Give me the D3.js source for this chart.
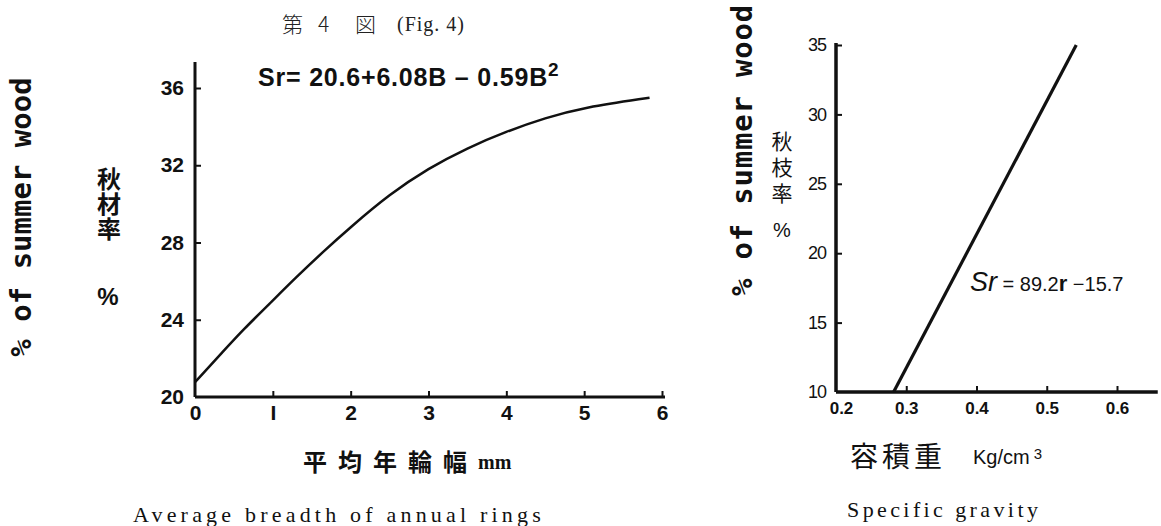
<!DOCTYPE html>
<html>
<head>
<meta charset="utf-8">
<script src="https://cdn.jsdelivr.net/npm/d3@7"></script>
<style>
  body { margin: 0; background: #fff; }
  svg { display: block; }
  .num { font-family: "Liberation Sans", Arial, sans-serif; font-weight: bold; fill: #111; }
  .domain, .tick line { stroke: #111; }
</style>
</head>
<body>
<div id="chart"></div>
<script>
// Fig. 4 left: summer wood % vs average ring breadth (curve)
const breadth = [0, 0.36, 0.61, 1, 1.3, 1.64, 2, 2.5, 3, 3.5, 4, 4.5, 5, 5.84];
const summerLeft = [20.77, 22.35, 23.45, 25.0, 26.2, 27.5, 28.8, 30.5, 31.85, 32.9, 33.75, 34.45, 35.0, 35.5];
const leftXTicks = [0, 1, 2, 3, 4, 5, 6];
const leftYTicks = [20, 24, 28, 32, 36];

// Fig. 4 right: summer wood % vs specific gravity (straight line)
const gravity = [0.282, 0.542];
const summerRight = [10, 35];
const rightXTicks = [0.2, 0.3, 0.4, 0.5, 0.6];
const rightYTicks = [10, 15, 20, 25, 30, 35];

const width = 1161;
const height = 526;

const svg = d3.select("#chart")
    .append("svg")
    .attr("width", width)
    .attr("height", height);

svg.append("rect").attr("width", width).attr("height", height).attr("fill", "#fff");

const cjk = '"Noto Sans CJK JP", "Noto Sans CJK SC", sans-serif';
const serif = '"Liberation Serif", "DejaVu Serif", serif';
const mono = '"DejaVu Sans Mono", "Liberation Mono", monospace';
const sans = '"Liberation Sans", Arial, sans-serif';

// ---------- left panel ----------
const x1 = d3.scaleLinear().domain([0, 6]).range([195, 662]);
const y1 = d3.scaleLinear().domain([20, 36]).range([397, 88]);

const xAxis1 = d3.axisBottom(x1)
    .tickValues(leftXTicks)
    .tickFormat(d => d === 1 ? "I" : d)
    .tickSizeInner(-6)
    .tickSizeOuter(0)
    .tickPadding(8);

const yAxis1 = d3.axisLeft(y1)
    .tickValues(leftYTicks)
    .tickSizeInner(-6)
    .tickSizeOuter(0)
    .tickPadding(11);

const gx1 = svg.append("g")
    .attr("transform", `translate(0,${y1(20)})`)
    .call(xAxis1);
gx1.select(".domain").attr("d", `M${x1(0)},0H${x1(6) + 3}`);

const gy1 = svg.append("g")
    .attr("transform", `translate(${x1(0)},0)`)
    .call(yAxis1);
gy1.select(".domain").attr("d", `M0,${y1(20)}V${y1(37.35)}`);

[gx1, gy1].forEach(g => {
    g.selectAll(".domain").attr("stroke-width", 3);
    g.selectAll(".tick line").attr("stroke-width", 2);
    g.selectAll("text").attr("class", "num").style("font-size", "21px");
});
gx1.selectAll(".tick").filter(d => d === 0).select("line").remove();
gy1.selectAll(".tick").filter(d => d === 20).select("line").remove();

svg.append("path")
    .datum(breadth.map((b, i) => [b, summerLeft[i]]))
    .attr("fill", "none")
    .attr("stroke", "#111")
    .attr("stroke-width", 2.5)
    .attr("d", d3.line().x(d => x1(d[0])).y(d => y1(d[1])).curve(d3.curveBasis));

// title
const title = svg.append("text")
    .attr("y", 32)
    .style("font-family", cjk).style("font-size", "21px").style("font-weight", 300)
    .attr("fill", "#222");
title.append("tspan").attr("x", 282).text("第");
title.append("tspan").attr("x", 318).text("4");
title.append("tspan").attr("x", 355).text("図");
svg.append("text")
    .attr("x", 397).attr("y", 31)
    .style("font-family", serif).style("font-size", "20px")
    .style("letter-spacing", "1px")
    .attr("fill", "#222")
    .text("(Fig. 4)");

// equation
const eq1 = svg.append("text")
    .attr("x", 258).attr("y", 86)
    .attr("class", "num")
    .style("font-size", "25px")
    .style("letter-spacing", "0.8px");
eq1.append("tspan").text("Sr= 20.6+6.08B \u2013 0.59B");
eq1.append("tspan").attr("dy", -10).style("font-size", "19px").text("2");

// y labels
svg.append("text")
    .attr("transform", "translate(31,217) rotate(-90)")
    .attr("text-anchor", "middle")
    .style("font-family", mono).style("font-size", "29px").style("font-weight", "bold")
    .attr("fill", "#111")
    .text("% of summer wood");

svg.append("text")
    .attr("x", 109).attr("y", 167)
    .style("writing-mode", "vertical-rl")
    .style("font-family", cjk).style("font-size", "24px").style("font-weight", "bold")
    .style("letter-spacing", "1px")
    .attr("fill", "#111")
    .text("秋材率");
svg.append("text")
    .attr("x", 108).attr("y", 305)
    .attr("text-anchor", "middle")
    .attr("class", "num").style("font-size", "24px")
    .text("%");

// x labels
svg.append("text")
    .attr("x", 303).attr("y", 471)
    .style("font-family", cjk).style("font-size", "24px").style("font-weight", "bold")
    .style("letter-spacing", "11px")
    .attr("fill", "#111")
    .text("平均年輪幅");
svg.append("text")
    .attr("x", 478).attr("y", 469)
    .style("font-family", serif).style("font-size", "20px").style("font-weight", "bold")
    .attr("fill", "#111")
    .text("mm");

svg.append("text")
    .attr("x", 133).attr("y", 522)
    .style("font-family", serif).style("font-size", "22px")
    .style("letter-spacing", "4.2px")
    .attr("fill", "#111")
    .text("Average breadth of annual rings");

// ---------- right panel ----------
const x2 = d3.scaleLinear().domain([0.2, 0.6]).range([836, 1117]);
const y2 = d3.scaleLinear().domain([10, 35]).range([392, 45]);

const xAxis2 = d3.axisBottom(x2)
    .tickValues(rightXTicks)
    .tickFormat(d3.format(".1f"))
    .tickSizeInner(-6)
    .tickSizeOuter(0)
    .tickPadding(10);

const yAxis2 = d3.axisLeft(y2)
    .tickValues(rightYTicks)
    .tickSizeInner(-6)
    .tickSizeOuter(0)
    .tickPadding(10);

const gx2 = svg.append("g")
    .attr("transform", `translate(0,${y2(10)})`)
    .call(xAxis2);
gx2.select(".domain").attr("d", `M${x2(0.2)},0H${x2(0.658)}`);

const gy2 = svg.append("g")
    .attr("transform", `translate(${x2(0.2)},0)`)
    .call(yAxis2);
gy2.select(".domain").attr("d", `M0,${y2(10)}V${y2(35.15)}`);

[gx2, gy2].forEach(g => {
    g.selectAll(".domain").attr("stroke-width", 3.5);
    g.selectAll(".tick line").attr("stroke-width", 2);
});
gx2.selectAll("text").attr("class", "num").style("font-size", "17px");
gy2.selectAll("text").attr("class", "num").style("font-size", "18px").style("font-weight", "normal")
    .style("letter-spacing", "-1px");
gx2.selectAll(".tick").filter(d => d === 0.2).select("line").remove();
gy2.selectAll(".tick").filter(d => d === 10).select("line").remove();
gx2.selectAll(".tick").filter(d => d === 0.2).select("text").attr("x", 5);

svg.append("path")
    .datum(gravity.map((g, i) => [g, summerRight[i]]))
    .attr("fill", "none")
    .attr("stroke", "#111")
    .attr("stroke-width", 3.2)
    .attr("d", d3.line().x(d => x2(d[0])).y(d => y2(d[1])));

const eq2 = svg.append("text")
    .attr("x", 970).attr("y", 291)
    .attr("fill", "#111")
    .style("font-family", sans);
eq2.append("tspan").style("font-size", "27px").style("font-style", "italic").text("Sr");
eq2.append("tspan").style("font-size", "20px").text(" = 89.2");
eq2.append("tspan").style("font-size", "22px").style("font-weight", "bold").text("r");
eq2.append("tspan").style("font-size", "20px").text(" \u221215.7");

svg.append("text")
    .attr("transform", "translate(752,150) rotate(-90)")
    .attr("text-anchor", "middle")
    .style("font-family", mono).style("font-size", "29px").style("font-weight", "bold")
    .style("letter-spacing", "0.8px")
    .attr("fill", "#111")
    .text("% of summer wood");

svg.append("text")
    .attr("x", 782).attr("y", 131)
    .style("writing-mode", "vertical-rl")
    .style("font-family", cjk).style("font-size", "21px")
    .style("letter-spacing", "5px")
    .attr("fill", "#111")
    .text("秋枝率");
svg.append("text")
    .attr("x", 782).attr("y", 237)
    .attr("text-anchor", "middle")
    .attr("class", "num").style("font-size", "20px").style("font-weight", "normal")
    .text("%");

svg.append("text")
    .attr("x", 850).attr("y", 467)
    .style("font-family", cjk).style("font-size", "28px")
    .style("letter-spacing", "4px")
    .attr("fill", "#111")
    .text("容積重");
const unit = svg.append("text")
    .attr("x", 973).attr("y", 464)
    .style("font-family", sans).style("font-size", "20px")
    .attr("fill", "#111");
unit.append("tspan").text("Kg/cm");
unit.append("tspan").attr("dx", 4).attr("dy", -5).style("font-size", "15px").text("3");

svg.append("text")
    .attr("x", 847).attr("y", 517)
    .style("font-family", serif).style("font-size", "22px")
    .style("letter-spacing", "3.4px")
    .attr("fill", "#111")
    .text("Specific gravity");
</script>
</body>
</html>
